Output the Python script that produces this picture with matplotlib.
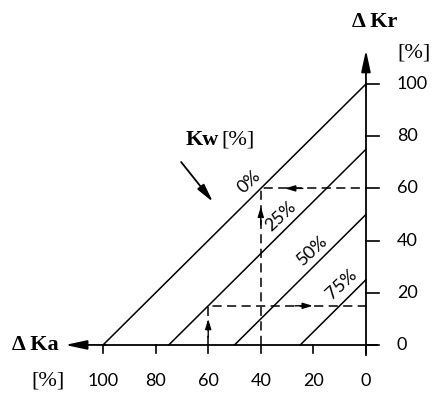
import numpy as np
import matplotlib
matplotlib.use("Agg")
import matplotlib.pyplot as plt

# Kw curves: Kr = 100 - Kw - Ka
kw_levels = [0, 25, 50, 75]
kw_labels = ["0%", "25%", "50%", "75%"]
kw_label_pos = [(44.5, 62.5), (32.4, 49.2), (20.4, 36.4), (9.2, 23.4)]

ka_ticks = [100, 80, 60, 40, 20, 0]
kr_ticks = [0, 20, 40, 60, 80, 100]

# worked examples (dashed read-off paths)
ex1_ka = [40, 40, 0]
ex1_kr = [0, 60, 60]
ex2_ka = [60, 60, 0]
ex2_kr = [0, 15, 15]

num_font = "Lato"
serif = "Liberation Serif"

fig = plt.figure(figsize=(4.33, 3.94), dpi=100)
ax = fig.add_axes([0, 0, 1, 1])
ax.set_xlim(139.2, -25.5)
ax.set_ylim(-18.8, 132.2)
ax.axis("off")

lw = 1.1
big_head = "-|>,head_length=1.3,head_width=0.28"
# axes lines with arrows
ax.plot([-4.3, 100], [0, 0], color="black", lw=1.3)
ax.annotate("", xy=(114.4, 0), xytext=(99, 0),
            arrowprops=dict(arrowstyle=big_head, color="black", lw=1.3,
                            shrinkA=0, shrinkB=0))
ax.plot([0, 0], [-4, 100], color="black", lw=1.3)
ax.annotate("", xy=(0, 113), xytext=(0, 99),
            arrowprops=dict(arrowstyle=big_head, color="black", lw=1.3,
                            shrinkA=0, shrinkB=0))

# ticks and tick labels
for k in ka_ticks:
    ax.plot([k, k], [0, -3.2], color="black", lw=1.2)
    ax.text(k, -14, str(k), ha="center", va="center", fontsize=13, family=num_font)
for k in kr_ticks:
    ax.plot([0, -5], [k, k], color="black", lw=1.2)
    ax.text(-11.8, k, str(k), ha="left", va="center", fontsize=13, family=num_font)

# Kw lines
for kw, lab, (lx, ly) in zip(kw_levels, kw_labels, kw_label_pos):
    ka = np.array([100 - kw, 0])
    kr = 100 - kw - ka
    ax.plot(ka, kr, color="black", lw=lw)
    ax.text(lx, ly, lab, ha="center", va="center", rotation=43,
            fontsize=13, family=num_font)

# dashed example paths
dash = dict(color="black", lw=1.1, dashes=(6, 3.5))
ax.plot(ex1_ka, ex1_kr, **dash)
ax.plot(ex2_ka, ex2_kr, **dash)

head = dict(arrowstyle="-|>,head_length=0.6,head_width=0.18", color="black",
            lw=1.0, shrinkA=0, shrinkB=0)
ax.annotate("", xy=(40, 53), xytext=(40, 46), arrowprops=head)
ax.annotate("", xy=(30.8, 60), xytext=(24, 60), arrowprops=head)
ax.annotate("", xy=(60, 10), xytext=(60, 3), arrowprops=head)
ax.annotate("", xy=(20.2, 15), xytext=(27, 15), arrowprops=head)

# Kw label with arrow
ax.text(62.4, 78.5, "Kw", ha="center", va="center", fontsize=16,
        family=serif, weight="bold")
ax.text(48.5, 78.5, "[%]", ha="center", va="center", fontsize=16, family=serif)
ax.annotate("", xy=(58.2, 54.8), xytext=(70.3, 70.1),
            arrowprops=dict(arrowstyle="-|>,head_length=1.1,head_width=0.25",
                            color="black", lw=1.3, shrinkA=0, shrinkB=0))

# axis titles
ax.text(-3.4, 123.8, "\u0394 Kr", ha="center", va="center", fontsize=16,
        family=serif, weight="bold")
ax.text(-18.3, 111.9, "[%]", ha="center", va="center", fontsize=16, family=serif)
ax.text(125.9, 0, "\u0394 Ka", ha="center", va="center", fontsize=16,
        family=serif, weight="bold")
ax.text(120.9, -13.8, "[%]", ha="center", va="center", fontsize=16, family=serif)

fig.savefig("out.png", dpi=100)
